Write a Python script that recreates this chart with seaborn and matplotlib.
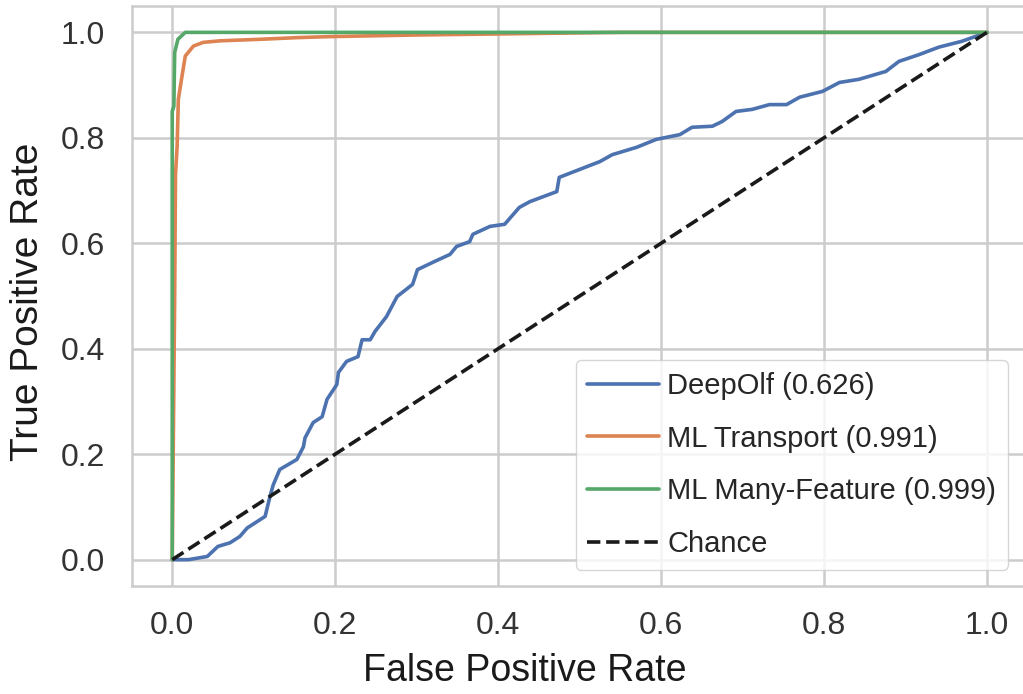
import matplotlib
matplotlib.use("Agg")
import matplotlib.pyplot as plt
import seaborn as sns

# -------------------------
# Data
# -------------------------
deepolf_fpr = [0.0, 0.02, 0.043, 0.056, 0.071, 0.083, 0.092, 0.104, 0.114, 0.12,
               0.124, 0.132, 0.153, 0.161, 0.163, 0.173, 0.184, 0.19, 0.202, 0.204,
               0.214, 0.228, 0.233, 0.243, 0.249, 0.263, 0.276, 0.295, 0.301, 0.32,
               0.341, 0.349, 0.365, 0.369, 0.39, 0.408, 0.426, 0.439, 0.472, 0.475,
               0.5, 0.525, 0.54, 0.57, 0.594, 0.623, 0.638, 0.663, 0.675, 0.692,
               0.712, 0.733, 0.754, 0.77, 0.798, 0.819, 0.843, 0.876, 0.892, 0.917,
               0.941, 0.969, 1.0]
deepolf_tpr = [0.0, 0.0, 0.006, 0.025, 0.032, 0.044, 0.06, 0.072, 0.082, 0.12,
               0.142, 0.171, 0.19, 0.214, 0.231, 0.26, 0.271, 0.304, 0.332, 0.355,
               0.376, 0.385, 0.417, 0.417, 0.433, 0.461, 0.499, 0.522, 0.55, 0.564,
               0.579, 0.594, 0.603, 0.617, 0.632, 0.636, 0.668, 0.679, 0.698, 0.725,
               0.74, 0.755, 0.768, 0.782, 0.797, 0.806, 0.82, 0.822, 0.831, 0.85,
               0.854, 0.863, 0.863, 0.877, 0.888, 0.905, 0.911, 0.926, 0.945, 0.958,
               0.972, 0.983, 1.0]

transport_fpr = [0.0, 0.003, 0.004, 0.006, 0.0075, 0.012, 0.016, 0.026, 0.038,
                 0.059, 0.11, 0.153, 0.194, 0.3, 0.45, 0.55, 1.0]
transport_tpr = [0.0, 0.5, 0.73, 0.784, 0.873, 0.917, 0.955, 0.974, 0.981,
                 0.984, 0.987, 0.99, 0.992, 0.995, 0.998, 1.0, 1.0]

many_fpr = [0.0, 0.0, 0.002, 0.003, 0.007, 0.016, 1.0]
many_tpr = [0.0, 0.85, 0.86, 0.962, 0.987, 1.0, 1.0]

chance = [0.0, 1.0]

labels = ["DeepOlf (0.626)", "ML Transport (0.991)",
          "ML Many-Feature (0.999)", "Chance"]
colors = sns.color_palette("deep")

# -------------------------
# Plot
# -------------------------
sns.set_theme(style="whitegrid")
plt.rcParams["font.family"] = ["Liberation Sans", "DejaVu Sans"]

fig = plt.figure(figsize=(10.23, 6.94), dpi=100)
# axes run a little past the right edge, as in the cropped original
ax = fig.add_axes([131.5 / 1023, 108 / 694, (1027.7 - 131.5) / 1023, 580 / 694])

lw = 2.6
sns.lineplot(x=deepolf_fpr, y=deepolf_tpr, sort=False, estimator=None,
             color=colors[0], lw=lw, label=labels[0], ax=ax)
sns.lineplot(x=transport_fpr, y=transport_tpr, sort=False, estimator=None,
             color=colors[1], lw=lw, label=labels[1], ax=ax)
sns.lineplot(x=many_fpr, y=many_tpr, sort=False, estimator=None,
             color=colors[2], lw=lw, label=labels[2], ax=ax)
sns.lineplot(x=chance, y=chance, sort=False, estimator=None,
             color="k", lw=lw, ls="--", label=labels[3], ax=ax)

ax.set_xlim(-0.05, 1.05)
ax.set_ylim(-0.05, 1.05)
ax.set_xticks([0.0, 0.2, 0.4, 0.6, 0.8, 1.0])
ax.set_yticks([0.0, 0.2, 0.4, 0.6, 0.8, 1.0])
ax.tick_params(axis="both", labelsize=23, colors=".2")
ax.tick_params(axis="x", pad=12)
ax.tick_params(axis="y", pad=13)
ax.grid(color=".8", lw=1.8)
for s in ax.spines.values():
    s.set_color(".8")
    s.set_linewidth(1.8)

ax.set_xlabel("False Positive Rate", fontsize=27, color=".1")
ax.set_ylabel("True Positive Rate", fontsize=28, color=".1")
ax.xaxis.set_label_coords((525 - 131.5) / 896.2, -0.115)
ax.yaxis.set_label_coords(-0.0955, 0.49)

ax.legend(loc="lower right", bbox_to_anchor=(0.978, 0.028), borderaxespad=0,
          fontsize=21, handlelength=2.45, handletextpad=0.3,
          labelspacing=0.85, borderpad=0.4, frameon=True)

plt.savefig("out.png", dpi=100)
